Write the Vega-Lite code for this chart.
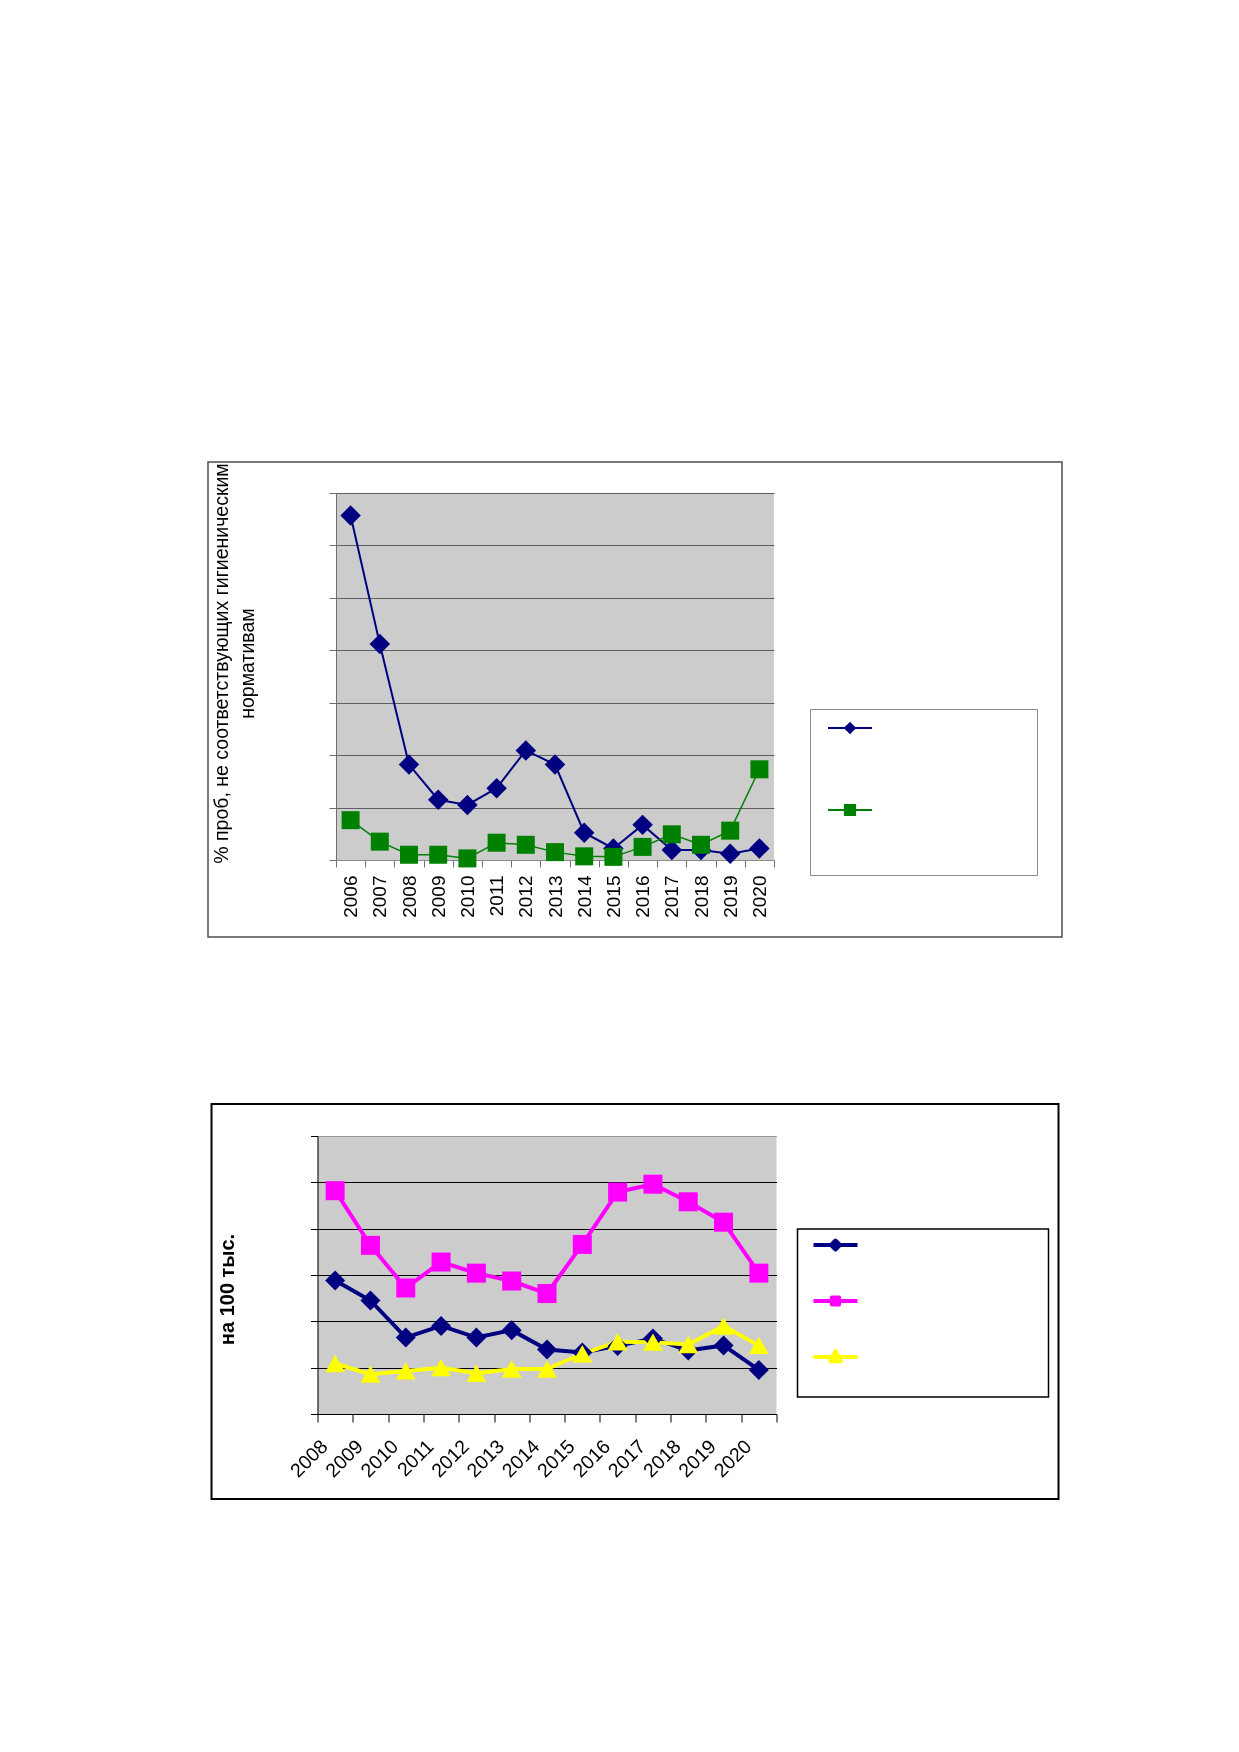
{
  "$schema": "https://vega.github.io/schema/vega-lite/v6.json",
  "background": "white",
  "padding": {"left": 198, "top": 461, "right": 10, "bottom": 10},
  "config": {
    "font": "Liberation Sans",
    "axis": {"labelFont": "Liberation Sans", "titleFont": "Liberation Sans"},
    "legend": {"labelFont": "Liberation Sans"}
  },
  "spacing": 167,
  "bounds": "flush",
  "center": true,
  "resolve": {
    "scale": {"color": "independent"}
  },
  "vconcat": [
    {
      "width": 854,
      "height": 475,
      "view": {"stroke": "#4d4d4d", "strokeWidth": 1.5, "fill": "white"},
      "data": {
        "values": [
          {"year": 2006, "series": "Ряд1", "value": 6.57},
          {"year": 2007, "series": "Ряд1", "value": 4.12},
          {"year": 2008, "series": "Ряд1", "value": 1.82},
          {"year": 2009, "series": "Ряд1", "value": 1.15},
          {"year": 2010, "series": "Ряд1", "value": 1.05},
          {"year": 2011, "series": "Ряд1", "value": 1.37},
          {"year": 2012, "series": "Ряд1", "value": 2.09},
          {"year": 2013, "series": "Ряд1", "value": 1.82},
          {"year": 2014, "series": "Ряд1", "value": 0.52},
          {"year": 2015, "series": "Ряд1", "value": 0.22},
          {"year": 2016, "series": "Ряд1", "value": 0.67},
          {"year": 2017, "series": "Ряд1", "value": 0.19},
          {"year": 2018, "series": "Ряд1", "value": 0.19},
          {"year": 2019, "series": "Ряд1", "value": 0.12},
          {"year": 2020, "series": "Ряд1", "value": 0.22},
          {"year": 2006, "series": "Ряд2", "value": 0.76},
          {"year": 2007, "series": "Ряд2", "value": 0.35},
          {"year": 2008, "series": "Ряд2", "value": 0.10},
          {"year": 2009, "series": "Ряд2", "value": 0.10},
          {"year": 2010, "series": "Ряд2", "value": 0.03},
          {"year": 2011, "series": "Ряд2", "value": 0.33},
          {"year": 2012, "series": "Ряд2", "value": 0.29},
          {"year": 2013, "series": "Ряд2", "value": 0.15},
          {"year": 2014, "series": "Ряд2", "value": 0.07},
          {"year": 2015, "series": "Ряд2", "value": 0.06},
          {"year": 2016, "series": "Ряд2", "value": 0.25},
          {"year": 2017, "series": "Ряд2", "value": 0.49},
          {"year": 2018, "series": "Ряд2", "value": 0.29},
          {"year": 2019, "series": "Ряд2", "value": 0.56},
          {"year": 2020, "series": "Ряд2", "value": 1.73}
        ]
      },
      "encoding": {
        "x": {
          "field": "year", "type": "ordinal",
          "scale": {"type": "band", "range": [128, 566], "paddingInner": 0, "paddingOuter": 0},
          "axis": {
            "orient": "bottom", "offset": -77, "title": null, "zindex": 0,
            "labelAngle": 270, "labelAlign": "right", "labelBaseline": "middle",
            "labelFontSize": 19, "labelColor": "black", "labelPadding": 8,
            "tickBand": "extent", "tickSize": 7, "tickColor": "#6e6e6e",
            "domain": true, "domainColor": "#8a8a8a", "grid": false
          }
        },
        "y": {
          "field": "value", "type": "quantitative",
          "scale": {"domain": [0, 7], "range": [398, 31], "nice": false, "zero": false},
          "axis": {
            "orient": "left", "offset": -128, "zindex": 0,
            "values": [0, 1, 2, 3, 4, 5, 6, 7], "labels": false,
            "tickSize": 7, "tickColor": "#6e6e6e",
            "domain": true, "domainColor": "#8a8a8a",
            "grid": true, "gridColor": "#767676", "gridWidth": 1,
            "title": ["% проб, не соответствующих гигиеническим", "нормативам"],
            "titleFontSize": 19.5, "titleFontWeight": "normal", "titleColor": "black",
            "titleAngle": 270, "titleAlign": "center", "titleBaseline": "middle",
            "titleLineHeight": 26, "titleX": -114.5, "titleY": 201
          }
        },
        "color": {
          "field": "series", "type": "nominal",
          "scale": {"domain": ["Ряд1", "Ряд2"], "range": ["#000080", "#008000"]},
          "legend": {
            "orient": "none", "legendX": 602, "legendY": 247, "title": null,
            "padding": 12, "rowPadding": 19, "symbolOffset": 21,
            "symbolSize": 144, "symbolStrokeWidth": 2,
            "strokeColor": "#8c8c8c", "fillColor": "white",
            "labelExpr": "''", "labelFontSize": 1, "labelOpacity": 0, "labelOffset": 0,
            "encode": {
              "symbols": {
                "update": {
                  "shape": {"signal": "datum.value === 'Ряд1' ? 'M-4.333,0M0,-0.9M-3.667,0H3.667M0,-0.8L0.8,0L0,0.8L-0.8,0ZM28.43,8.07' : 'M-4.333,0M0,-0.9M-3.667,0H3.667M-0.85,-0.85H0.85V0.85H-0.85ZM28.43,8.07'"},
                  "fill": {"signal": "datum.value === 'Ряд1' ? '#000080' : '#008000'"},
                  "stroke": {"signal": "datum.value === 'Ряд1' ? '#000080' : '#008000'"},
                  "strokeWidth": {"value": 2},
                  "opacity": {"value": 1}
                }
              }
            }
          }
        }
      },
      "layer": [
        {
          "transform": [{"filter": "datum.year === 2013 && datum.series === 'Ряд1'"}],
          "mark": {"type": "bar", "width": {"band": 15}, "blend": "multiply"},
          "encoding": {
            "y": {"datum": 7},
            "y2": {"datum": 0},
            "color": {"value": "#cccccc"}
          }
        },
        {
          "mark": {"type": "line"},
          "encoding": {
            "strokeWidth": {"condition": {"test": "datum.series === 'Ряд2'", "value": 1.5}, "value": 2}
          }
        },
        {
          "mark": {"type": "point", "filled": true, "opacity": 1},
          "encoding": {
            "shape": {"condition": {"test": "datum.series === 'Ряд2'", "value": "square"}, "value": "diamond"},
            "size": {"condition": {"test": "datum.series === 'Ряд2'", "value": 324}, "value": 420}
          }
        }
      ]
    },
    {
      "width": 847,
      "height": 395,
      "view": {"stroke": "black", "strokeWidth": 2, "fill": "white"},
      "data": {
        "values": [
          {"year": 2008, "series": "Ряд1", "value": 2.88},
          {"year": 2009, "series": "Ряд1", "value": 2.45},
          {"year": 2010, "series": "Ряд1", "value": 1.65},
          {"year": 2011, "series": "Ряд1", "value": 1.90},
          {"year": 2012, "series": "Ряд1", "value": 1.65},
          {"year": 2013, "series": "Ряд1", "value": 1.81},
          {"year": 2014, "series": "Ряд1", "value": 1.39},
          {"year": 2015, "series": "Ряд1", "value": 1.33},
          {"year": 2016, "series": "Ряд1", "value": 1.47},
          {"year": 2017, "series": "Ряд1", "value": 1.63},
          {"year": 2018, "series": "Ряд1", "value": 1.37},
          {"year": 2019, "series": "Ряд1", "value": 1.48},
          {"year": 2020, "series": "Ряд1", "value": 0.95},
          {"year": 2008, "series": "Ряд2", "value": 4.82},
          {"year": 2009, "series": "Ряд2", "value": 3.64},
          {"year": 2010, "series": "Ряд2", "value": 2.72},
          {"year": 2011, "series": "Ряд2", "value": 3.28},
          {"year": 2012, "series": "Ряд2", "value": 3.04},
          {"year": 2013, "series": "Ряд2", "value": 2.87},
          {"year": 2014, "series": "Ряд2", "value": 2.60},
          {"year": 2015, "series": "Ряд2", "value": 3.66},
          {"year": 2016, "series": "Ряд2", "value": 4.79},
          {"year": 2017, "series": "Ряд2", "value": 4.96},
          {"year": 2018, "series": "Ряд2", "value": 4.58},
          {"year": 2019, "series": "Ряд2", "value": 4.14},
          {"year": 2020, "series": "Ряд2", "value": 3.04},
          {"year": 2008, "series": "Ряд3", "value": 1.09},
          {"year": 2009, "series": "Ряд3", "value": 0.86},
          {"year": 2010, "series": "Ряд3", "value": 0.93},
          {"year": 2011, "series": "Ряд3", "value": 1.00},
          {"year": 2012, "series": "Ряд3", "value": 0.88},
          {"year": 2013, "series": "Ряд3", "value": 0.97},
          {"year": 2014, "series": "Ряд3", "value": 0.97},
          {"year": 2015, "series": "Ряд3", "value": 1.30},
          {"year": 2016, "series": "Ряд3", "value": 1.56},
          {"year": 2017, "series": "Ряд3", "value": 1.55},
          {"year": 2018, "series": "Ряд3", "value": 1.50},
          {"year": 2019, "series": "Ряд3", "value": 1.90},
          {"year": 2020, "series": "Ряд3", "value": 1.48}
        ]
      },
      "encoding": {
        "x": {
          "field": "year", "type": "ordinal",
          "scale": {"type": "band", "range": [106, 565], "paddingInner": 0, "paddingOuter": 0},
          "axis": {
            "orient": "bottom", "offset": -85, "title": null, "zindex": 0,
            "labelAngle": -45, "labelAlign": "right", "labelBaseline": "middle",
            "labelFontSize": 19.5, "labelColor": "black", "labelPadding": 21, "labelOffset": -11,
            "tickBand": "extent", "tickSize": 8, "tickColor": "black",
            "domain": true, "domainColor": "black", "grid": false
          }
        },
        "y": {
          "field": "value", "type": "quantitative",
          "scale": {"domain": [0, 6], "range": [310, 32], "nice": false, "zero": false},
          "axis": {
            "orient": "left", "offset": -106, "zindex": 0,
            "values": [0, 1, 2, 3, 4, 5, 6], "labels": false,
            "tickSize": 7, "tickColor": "black",
            "domain": true, "domainColor": "black",
            "grid": true, "gridWidth": 1.2,
            "gridColor": {"condition": {"test": "datum.value === 6", "value": "#bfbfbf"}, "value": "black"},
            "title": "на 100 тыс.",
            "titleFontSize": 20, "titleFontWeight": "bold", "titleColor": "black",
            "titleAngle": 270, "titleAlign": "center", "titleBaseline": "middle",
            "titleX": -90, "titleY": 185
          }
        },
        "color": {
          "field": "series", "type": "nominal",
          "scale": {"domain": ["Ряд1", "Ряд2", "Ряд3"], "range": ["#000080", "#ff00ff", "#ffff00"]},
          "legend": {
            "orient": "none", "legendX": 586, "legendY": 125, "title": null,
            "padding": 8, "rowPadding": 9, "symbolOffset": 22,
            "symbolSize": 144, "symbolStrokeWidth": 4,
            "strokeColor": "black", "fillColor": "white",
            "labelExpr": "''", "labelFontSize": 1, "labelOpacity": 0, "labelOffset": 0,
            "encode": {
              "symbols": {
                "update": {
                  "shape": {"signal": "datum.value === 'Ряд1' ? 'M-4.333,0M0,-2.13M-3.667,0H3.667M0,-0.75L0.75,0L0,0.75L-0.75,0ZM33.667,5' : datum.value === 'Ряд2' ? 'M-4.333,0M0,-2.13M-3.667,0H3.667M-0.6,-0.6H0.6V0.6H-0.6ZM33.667,5' : 'M-4.333,0M0,-2.13M-3.667,0H3.667M0,-0.95L0.85,0.7L-0.85,0.7ZM33.667,5'"},
                  "fill": {"signal": "datum.value === 'Ряд1' ? '#000080' : datum.value === 'Ряд2' ? '#ff00ff' : '#ffff00'"},
                  "stroke": {"signal": "datum.value === 'Ряд1' ? '#000080' : datum.value === 'Ряд2' ? '#ff00ff' : '#ffff00'"},
                  "strokeWidth": {"value": 4},
                  "strokeJoin": {"value": "round"},
                  "opacity": {"value": 1}
                }
              },
              "legend": {"update": {"strokeWidth": {"value": 1.5}}}
            }
          }
        }
      },
      "layer": [
        {
          "transform": [{"filter": "datum.year === 2014 && datum.series === 'Ряд1'"}],
          "mark": {"type": "bar", "width": {"band": 13}, "blend": "multiply"},
          "encoding": {
            "y": {"datum": 6},
            "y2": {"datum": 0},
            "color": {"value": "#cccccc"}
          }
        },
        {
          "mark": {"type": "line", "strokeWidth": 4}
        },
        {
          "mark": {"type": "point", "filled": true, "opacity": 1},
          "encoding": {
            "shape": {"condition": [
              {"test": "datum.series === 'Ряд2'", "value": "square"},
              {"test": "datum.series === 'Ряд3'", "value": "triangle-up"}
            ], "value": "diamond"},
            "size": {"condition": {"test": "datum.series === 'Ряд2'", "value": 361}, "value": 400}
          }
        }
      ]
    }
  ]
}
